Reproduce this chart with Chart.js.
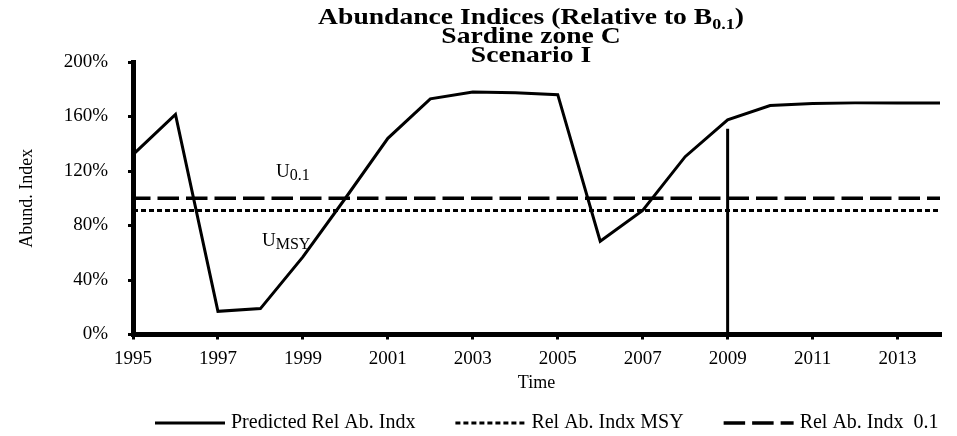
<!DOCTYPE html>
<html><head><meta charset="utf-8">
<script src="https://cdn.jsdelivr.net/npm/chart.js@4"></script>
<style>html,body{margin:0;padding:0;background:#fff}#wrap{width:957px;height:436px}</style>
</head><body><div id="wrap"><canvas id="c" width="957" height="436"></canvas></div>
<script>
// ---- data ----
const years = [1995,1996,1997,1998,1999,2000,2001,2002,2003,2004,2005,2006,2007,2008,2009,2010,2011,2012,2013,2014];
const predicted = [132,161.5,17,19,57,100,144,173,178,177.5,176,68.5,91,130.5,157.5,168,169.5,170,170,170];
const refSpan = [1995, 2014];
const refMSY = [91, 91];
const ref01 = [100, 100];
const markerYears = [2009, 2009];
const markerValues = [0, 151];
const xTickYears = [1995,1997,1999,2001,2003,2005,2007,2009,2011,2013];
const yTickValues = [0,40,80,120,160,200];
const seriesLabels = ['Predicted Rel Ab. Indx','Rel Ab. Indx MSY','Rel Ab. Indx  0.1'];
const titleLines = ['Abundance Indices (Relative to B', 'Sardine zone C', 'Scenario I'];
const titleSub = '0.1';

const FONT = '"Liberation Serif", "Times New Roman", serif';
const pts = (xs, ys) => xs.map((x, i) => ({x, y: ys[i]}));

const overlay = {
  id: 'overlay',
  afterDraw(chart) {
    const ctx = chart.ctx;
    ctx.save();
    ctx.fillStyle = '#000';
    // title with subscript (slightly widened to match the reference lettering)
    const cx = 531, sx = 1.2;
    ctx.textBaseline = 'alphabetic';
    const big = 'bold 23px ' + FONT, small = 'bold 15px ' + FONT;
    ctx.font = big; const w1 = ctx.measureText(titleLines[0]).width; const w3 = ctx.measureText(')').width;
    ctx.font = small; const w2 = ctx.measureText(titleSub).width;
    ctx.save();
    ctx.translate(cx, 0); ctx.scale(sx, 1);
    let x0 = -(w1 + w2 + w3) / 2;
    ctx.textAlign = 'left';
    ctx.font = big; ctx.fillText(titleLines[0], x0, 24);
    ctx.font = small; ctx.fillText(titleSub, x0 + w1, 29);
    ctx.font = big; ctx.fillText(')', x0 + w1 + w2, 24);
    ctx.textAlign = 'center';
    ctx.fillText(titleLines[1], 0, 43);
    ctx.fillText(titleLines[2], 0, 62);
    ctx.restore();
    // reference labels
    ctx.textAlign = 'left';
    const drawSub = (main, sub, x, y) => {
      ctx.font = '19px ' + FONT; ctx.fillText(main, x, y);
      const w = ctx.measureText(main).width;
      ctx.font = '16px ' + FONT; ctx.fillText(sub, x + w, y + 3);
    };
    drawSub('U', '0.1', 276, 177);
    drawSub('U', 'MSY', 262, 246);
    // legend
    const ds = chart.data.datasets;
    let lx = 155; const ly = 423;
    ctx.font = '20px ' + FONT; ctx.textBaseline = 'middle';
    for (let i = 0; i < 3; i++) {
      const d = ds[i];
      ctx.strokeStyle = d.borderColor; ctx.lineWidth = d.borderWidth;
      ctx.setLineDash(d.borderDash || []);
      ctx.beginPath(); ctx.moveTo(lx, ly); ctx.lineTo(lx + 70, ly); ctx.stroke();
      ctx.fillText(d.label, lx + 76, ly);
      lx += 76 + ctx.measureText(d.label).width + 40;
    }
    ctx.restore();
  }
};

new Chart(document.getElementById('c'), {
  type: 'line',
  data: {
    datasets: [
      {label: seriesLabels[0], data: pts(years, predicted), borderColor: '#000', borderWidth: 3, pointRadius: 0, tension: 0},
      {label: seriesLabels[1], data: pts(refSpan, refMSY), borderColor: '#000', borderWidth: 3, borderDash: [5, 3], pointRadius: 0},
      {label: seriesLabels[2], data: pts(refSpan, ref01), borderColor: '#000', borderWidth: 3.5, borderDash: [21.5, 7], borderDashOffset: 4, pointRadius: 0},
      {label: 'marker', data: pts(markerYears, markerValues), borderColor: '#000', borderWidth: 3, pointRadius: 0}
    ]
  },
  options: {
    responsive: false, animation: false, devicePixelRatio: 1,
    layout: {padding: {top: 62, right: 17, bottom: 42, left: 0}},
    plugins: {legend: {display: false}, title: {display: false}, tooltip: {enabled: false}},
    scales: {
      x: {
        type: 'linear', min: 1995, max: 2014,
        afterBuildTicks: s => { s.ticks = xTickYears.map(v => ({value: v})); },
        afterFit: s => { s.height = 59.5; },
        grid: {display: true, drawOnChartArea: false, drawTicks: true, tickLength: 5, lineWidth: 3, color: '#000'},
        border: {display: true, width: 5, color: '#000'},
        ticks: {color: '#000', font: {family: FONT, size: 19}, padding: 8, maxRotation: 0, autoSkip: false, callback: v => String(v)},
        title: {display: true, text: 'Time', color: '#000', font: {family: FONT, size: 18}, padding: 0}
      },
      y: {
        min: 0, max: 200,
        afterBuildTicks: s => { s.ticks = yTickValues.map(v => ({value: v})); },
        afterFit: s => { s.width = 133; },
        grid: {display: true, drawOnChartArea: false, drawTicks: true, tickLength: 5, lineWidth: 3, color: '#000'},
        border: {display: true, width: 5, color: '#000'},
        ticks: {color: '#000', font: {family: FONT, size: 19}, padding: 20, callback: v => v + '%'},
        title: {display: true, text: 'Abund. Index', color: '#000', font: {family: FONT, size: 18}, padding: {top: 16, bottom: 0}}
      }
    }
  },
  plugins: [overlay]
});
</script></body></html>
